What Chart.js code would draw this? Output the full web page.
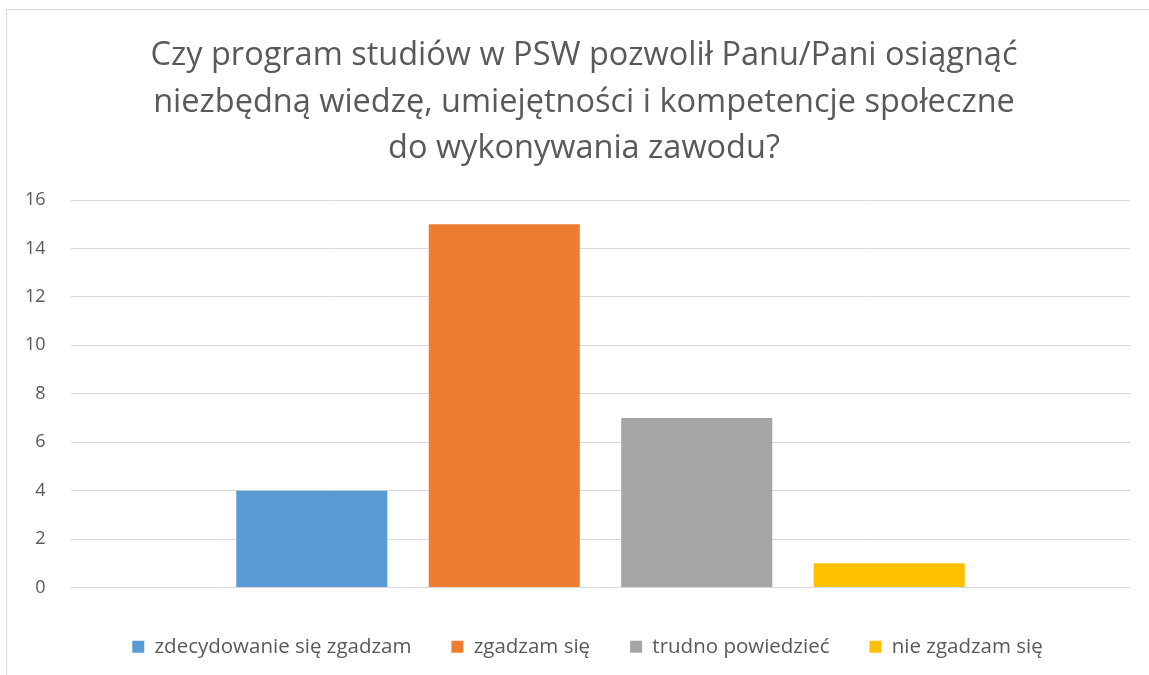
<!DOCTYPE html>
<html>
<head>
<meta charset="utf-8">
<script src="https://cdn.jsdelivr.net/npm/chart.js@4/dist/chart.umd.min.js"></script>
<style>
  html, body { margin: 0; padding: 0; background: #fff; }
  #wrap { position: absolute; left: 0; top: 0; width: 1149px; height: 675px; }
</style>
</head>
<body>
<div id="wrap"><canvas id="c" width="1149" height="675"></canvas></div>
<script>
const titleLines = [
  "Czy program studiów w PSW pozwolił Panu/Pani osiągnąć",
  "niezbędną wiedzę, umiejętności i kompetencje społeczne",
  "do wykonywania zawodu?"
];
const categories = [""];
const seriesNames = ["zdecydowanie się zgadzam", "zgadzam się", "trudno powiedzieć", "nie zgadzam się"];
const seriesValues = [[4], [15], [7], [1]];
const seriesColors = ["#5B9BD5", "#ED7D31", "#A5A5A5", "#FFC000"];
const yTicks = [0, 2, 4, 6, 8, 10, 12, 14, 16];

const FONT = "'Open Sans', Lato, sans-serif";
const TEXT = "#595959";

const borderPlugin = {
  id: 'outerBorder',
  beforeDraw(chart) {
    const ctx = chart.ctx;
    ctx.save();
    ctx.fillStyle = '#fff';
    ctx.fillRect(0, 0, chart.width, chart.height);
    ctx.strokeStyle = '#D9D9D9';
    ctx.lineWidth = 1;
    ctx.strokeRect(6.5, 9.5, 1200, 700);
    ctx.restore();
  }
};

const titlePlugin = {
  id: 'multiTitle',
  afterDraw(chart) {
    const ctx = chart.ctx;
    ctx.save();
    ctx.fillStyle = TEXT;
    ctx.font = "32.5px " + FONT;
    ctx.textAlign = 'center';
    ctx.textBaseline = 'middle';
    titleLines.forEach((t, i) => ctx.fillText(t, 584, 56 + i * 46.5));
    ctx.restore();
  }
};

new Chart(document.getElementById('c'), {
  type: 'bar',
  data: {
    labels: categories,
    datasets: seriesNames.map((n, i) => ({
      label: n,
      data: seriesValues[i],
      backgroundColor: seriesColors[i],
      borderWidth: 0,
      categoryPercentage: 0.727,
      barPercentage: 0.785
    }))
  },
  options: {
    responsive: false,
    animation: false,
    devicePixelRatio: 1,
    layout: { padding: { left: 45, right: 19, top: 200, bottom: 8 } },
    plugins: {
      title: { display: false },
      legend: {
        position: 'bottom',
        labels: {
          color: TEXT,
          font: { family: FONT, size: 20.5 },
          boxWidth: 12,
          boxHeight: 12,
          padding: 40
        }
      },
      tooltip: { enabled: false }
    },
    scales: {
      x: {
        grid: { display: false },
        border: { display: false },
        ticks: { display: false },
        afterFit(s) { s.height = 9; }
      },
      y: {
        min: 0, max: 16,
        border: { display: false },
        grid: { color: '#D9D9D9', lineWidth: 1, drawTicks: false },
        afterBuildTicks(s) { s.ticks = yTicks.map(v => ({ value: v })); },
        ticks: { color: TEXT, font: { family: FONT, size: 18 }, mirror: true, crossAlign: 'far', padding: -46 },
        afterFit(s) { s.width = 26; }
      }
    }
  },
  plugins: [borderPlugin, titlePlugin]
});
</script>
</body>
</html>
